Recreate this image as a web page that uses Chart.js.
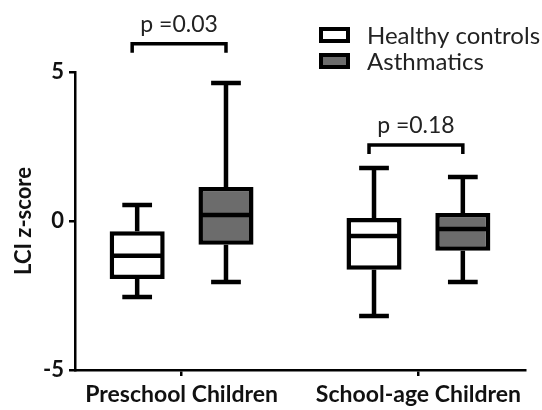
<!DOCTYPE html>
<html>
<head>
<meta charset="utf-8">
<script src="https://cdn.jsdelivr.net/npm/chart.js@4"></script>
<style>
  html, body { margin: 0; padding: 0; background: #fff; }
  #wrap { width: 542px; height: 410px; }
</style>
</head>
<body>
<div id="wrap"><canvas id="chart"></canvas></div>
<script>
const categories = ['Preschool Children', 'School-age Children'];
const seriesNames = ['Healthy controls', 'Asthmatics'];

// five-number summaries
const healthyMin = [-2.55, -3.19];
const healthyQ1 = [-1.95, -1.64];
const healthyMedian = [-1.17, -0.5];
const healthyQ3 = [-0.34, 0.1];
const healthyMax = [0.54, 1.78];

const asthmaMin = [-2.05, -2.05];
const asthmaQ1 = [-0.8, -1.0];
const asthmaMedian = [0.2, -0.27];
const asthmaQ3 = [1.14, 0.27];
const asthmaMax = [4.63, 1.48];

const pValues = ['p =0.03', 'p =0.18'];
const yTicks = [-5, 0, 5];

const stats = [
  { min: healthyMin, q1: healthyQ1, med: healthyMedian, q3: healthyQ3, max: healthyMax },
  { min: asthmaMin, q1: asthmaQ1, med: asthmaMedian, q3: asthmaQ3, max: asthmaMax }
];
const fills = ['#ffffff', '#6c6c6c'];
const bracketLevel = [5.95, 2.55]; // in y units
const FONT = 'Lato, "Open Sans", sans-serif';

const boxExtras = {
  id: 'boxExtras',
  afterDatasetsDraw(chart) {
    const ctx = chart.ctx;
    const ys = chart.scales.y;
    ctx.save();
    ctx.strokeStyle = '#000';
    ctx.lineWidth = 4.5;
    ctx.lineCap = 'butt';
    chart.data.datasets.forEach((ds, di) => {
      const meta = chart.getDatasetMeta(di);
      const s = stats[di];
      meta.data.forEach((bar, i) => {
        const x = bar.x;
        const w = bar.width;
        const cap = w * 0.27;
        const yMin = ys.getPixelForValue(s.min[i]);
        const yMax = ys.getPixelForValue(s.max[i]);
        const yQ1 = ys.getPixelForValue(s.q1[i]);
        const yQ3 = ys.getPixelForValue(s.q3[i]);
        const yMed = ys.getPixelForValue(s.med[i]);
        ctx.beginPath();
        ctx.moveTo(x, yQ3); ctx.lineTo(x, yMax);
        ctx.moveTo(x - cap, yMax); ctx.lineTo(x + cap, yMax);
        ctx.moveTo(x, yQ1); ctx.lineTo(x, yMin);
        ctx.moveTo(x - cap, yMin); ctx.lineTo(x + cap, yMin);
        ctx.moveTo(x - w / 2 + 2, yMed); ctx.lineTo(x + w / 2 - 2, yMed);
        ctx.stroke();
      });
    });

    // significance brackets
    const m0 = chart.getDatasetMeta(0).data;
    const m1 = chart.getDatasetMeta(1).data;
    ctx.lineWidth = 3.5;
    ctx.fillStyle = '#222';
    ctx.font = '23px ' + FONT;
    ctx.textAlign = 'center';
    ctx.textBaseline = 'bottom';
    categories.forEach((c, i) => {
      const x0 = m0[i].x - 5, x1 = m1[i].x;
      const yb = ys.getPixelForValue(bracketLevel[i]);
      ctx.beginPath();
      ctx.moveTo(x0, yb + 9); ctx.lineTo(x0, yb); ctx.lineTo(x1, yb); ctx.lineTo(x1, yb + 9);
      ctx.stroke();
      ctx.fillText(pValues[i], (x0 + x1) / 2, yb - 8);
    });

    // legend
    ctx.font = '24px ' + FONT;
    ctx.textAlign = 'left';
    ctx.textBaseline = 'middle';
    ctx.lineWidth = 4;
    seriesNames.forEach((name, di) => {
      const ly = 35 + di * 26;
      ctx.fillStyle = fills[di];
      ctx.fillRect(321, ly - 6, 27, 12);
      ctx.strokeRect(321, ly - 6, 27, 12);
      ctx.fillStyle = '#222';
      ctx.fillText(name, 367, ly + 1);
    });
    ctx.restore();
  }
};

const datasets = stats.map((s, di) => ({
  label: seriesNames[di],
  data: categories.map((c, i) => ({ x: i, y: [s.q1[i], s.q3[i]] })),
  backgroundColor: fills[di],
  borderColor: '#000',
  borderWidth: 4.5,
  borderSkipped: false,
  categoryPercentage: 0.75,
  barPercentage: 0.62
}));

new Chart(document.getElementById('chart'), {
  type: 'bar',
  data: { datasets },
  options: {
    responsive: true,
    maintainAspectRatio: false,
    animation: false,
    layout: { padding: { top: 72, right: 17, left: 0, bottom: 0 } },
    plugins: { legend: { display: false }, tooltip: { enabled: false } },
    scales: {
      x: {
        type: 'linear',
        offset: false,
        min: -0.45,
        max: 1.45,
        afterBuildTicks: axis => { axis.ticks = categories.map((c, i) => ({ value: i })); },
        afterFit: axis => { axis.height = 40; },
        ticks: {
          callback: v => categories[v],
          color: '#111',
          font: { family: FONT, size: 23, weight: 'bold' },
          padding: 5,
          maxRotation: 0,
          autoSkip: false
        },
        grid: { offset: false, drawOnChartArea: false, drawTicks: true, tickLength: 6, color: '#000', lineWidth: 2.5 },
        border: { display: true, color: '#000', width: 2.5 }
      },
      y: {
        min: -5,
        max: 5,
        afterBuildTicks: axis => { axis.ticks = yTicks.map(v => ({ value: v })); },
        afterFit: axis => { axis.width = 75; },
        ticks: {
          color: '#111',
          font: { family: FONT, size: 22, weight: 'bold' },
          padding: 5
        },
        title: {
          display: true,
          text: 'LCI z-score',
          color: '#111',
          font: { family: FONT, size: 22, weight: 'bold' },
          padding: { top: 11 }
        },
        grid: { drawOnChartArea: false, drawTicks: true, tickLength: 6, color: '#000', lineWidth: 2.5 },
        border: { display: true, color: '#000', width: 2.5 }
      }
    }
  },
  plugins: [boxExtras]
});
</script>
</body>
</html>
